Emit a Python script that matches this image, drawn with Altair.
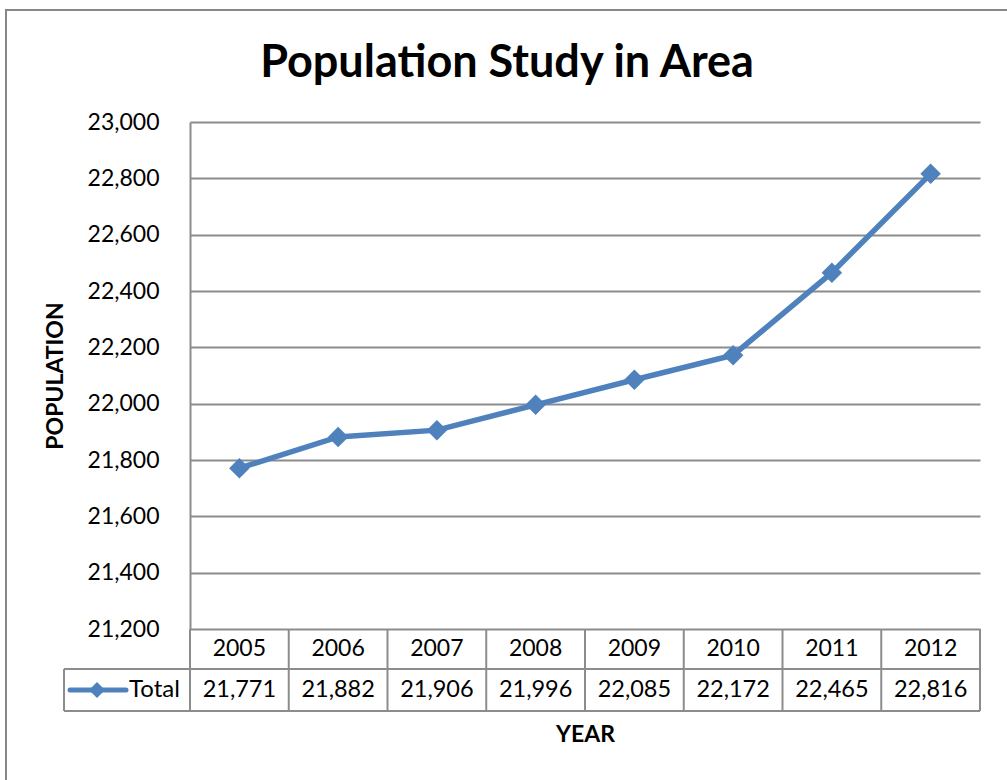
import altair as alt
import pandas as pd

# ---- data ----
years = ["2005", "2006", "2007", "2008", "2009", "2010", "2011", "2012"]
totals = [21771, 21882, 21906, 21996, 22085, 22172, 22465, 22816]
series_name = ["Total"]
y_ticks = [21200, 21400, 21600, 21800, 22000, 22200, 22400, 22600, 22800, 23000]
chart_title = ["Population Study in Area"]

df = pd.DataFrame({"year": years, "total": totals})
legend_df = pd.DataFrame({"series": series_name})
title_df = pd.DataFrame({"t": chart_title})
one = pd.DataFrame({"k": [0]})

FONT = "Lato"
GRID = "#8c8c8c"
BLUE = "#4f81bd"
W, H = 790, 507

x_axis = alt.Axis(title="YEAR", labels=False, ticks=False, domain=False, grid=False,
                  titleFont=FONT, titleFontSize=23, titleFontWeight="bold", titleColor="black",
                  titleY=105, titleBaseline="middle")
x_scale = alt.Scale(type="band", paddingInner=0, paddingOuter=0)
x_enc = alt.X("year:O", sort=years, scale=x_scale, axis=x_axis)
x_start = alt.X("year:O", sort=years, scale=x_scale, axis=x_axis, bandPosition=0)

y_axis = alt.Axis(values=y_ticks, format=",.0f", title="POPULATION",
                  labelFont=FONT, labelFontSize=23, labelColor="black",
                  labelPadding=31, ticks=False,
                  domainColor=GRID, domainWidth=2,
                  grid=True, gridColor=GRID, gridWidth=2,
                  titleFont=FONT, titleFontSize=23, titleFontWeight="bold",
                  titleColor="black", titleAngle=270, titleX=-135, titleY=H / 2,
                  titleBaseline="middle")
y_enc = alt.Y("total:Q",
              scale=alt.Scale(domain=[21200, 23000], nice=False, zero=False),
              axis=y_axis)

base = alt.Chart(df)

line = base.mark_line(color=BLUE, strokeWidth=5.5).encode(x=x_enc, y=y_enc)
pts = base.mark_point(shape="diamond", filled=True, size=420, color=BLUE, opacity=1).encode(x=x_enc, y=y_enc)

# data table
vrules = base.mark_rule(color=GRID, strokeWidth=2).encode(x=x_start, y=alt.value(H), y2=alt.value(589))
right_rule = alt.Chart(one).mark_rule(color=GRID, strokeWidth=2).encode(
    x=alt.value(W), y=alt.value(H), y2=alt.value(589))
left_rule = alt.Chart(one).mark_rule(color=GRID, strokeWidth=2).encode(
    x=alt.value(-126), y=alt.value(547), y2=alt.value(589))
h1 = alt.Chart(one).mark_rule(color=GRID, strokeWidth=2).encode(
    x=alt.value(-126), x2=alt.value(W), y=alt.value(547))
h2 = alt.Chart(one).mark_rule(color=GRID, strokeWidth=2).encode(
    x=alt.value(-126), x2=alt.value(W), y=alt.value(589))

year_txt = base.mark_text(font=FONT, fontSize=23, baseline="middle", color="black").encode(
    x=x_enc, y=alt.value(527), text="year:N")
val_txt = base.mark_text(font=FONT, fontSize=23.5, baseline="middle", color="black").encode(
    x=x_enc, y=alt.value(568), text=alt.Text("total:Q", format=",.0f"))

# legend key in table
leg_line = alt.Chart(legend_df).mark_rule(color=BLUE, strokeWidth=5, strokeCap="round").encode(
    x=alt.value(-120), x2=alt.value(-64), y=alt.value(568))
leg_pt = alt.Chart(legend_df).mark_point(shape="diamond", filled=True, size=260, color=BLUE, opacity=1).encode(
    x=alt.value(-93), y=alt.value(568))
leg_txt = alt.Chart(legend_df).mark_text(font=FONT, fontSize=24, align="left", baseline="middle", color="black").encode(
    x=alt.value(-61), y=alt.value(568), text="series:N")

# title and outer frame
title = alt.Chart(title_df).mark_text(font=FONT, fontSize=45, fontWeight="bold", align="center",
                                      baseline="alphabetic", color="black").encode(
    x=alt.value(317), y=alt.value(-45), text="t:N")
frame = alt.Chart(one).mark_rect(fill=None, stroke="#878787", strokeWidth=2).encode(
    x=alt.value(-184), x2=alt.value(900), y=alt.value(-112), y2=alt.value(700))

chart = alt.layer(frame, vrules, right_rule, left_rule, h1, h2, line, pts,
                  year_txt, val_txt, leg_line, leg_pt, leg_txt, title).properties(
    width=W, height=H,
    padding={"left": 190, "top": 122, "right": 27, "bottom": 151},
    autosize=alt.AutoSizeParams(type="none"),
    background="white",
).configure_view(stroke=None)

chart.save("out.html", embed_options={"renderer": "svg", "actions": False})
